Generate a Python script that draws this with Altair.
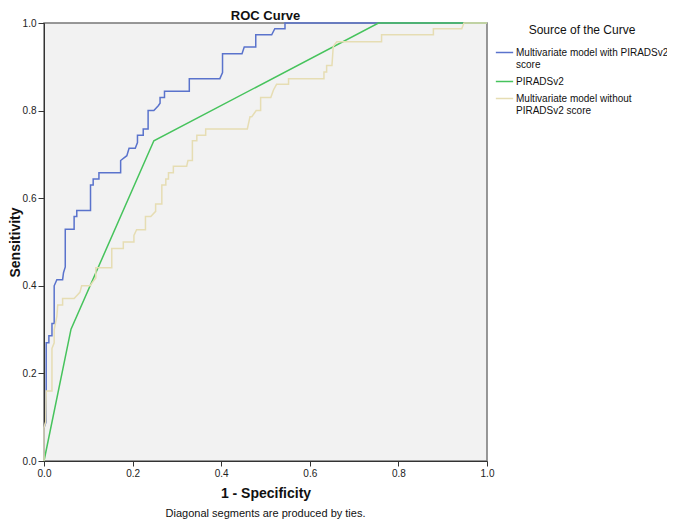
import altair as alt
import pandas as pd

series_names = [
    "Multivariate model with PIRADSv2 score",
    "PIRADSv2",
    "Multivariate model without PIRADSv2 score",
]
series_colors = ["#5a73cc", "#46c35c", "#e6ddb3"]

blue_fpr = [0, 0, 0.005, 0.005, 0.011, 0.011, 0.018, 0.018, 0.023, 0.023, 0.029, 0.042, 0.044, 0.048, 0.048,
            0.068, 0.068, 0.074, 0.074, 0.105, 0.105, 0.111, 0.111, 0.124, 0.124, 0.173, 0.173, 0.187, 0.192,
            0.206, 0.211, 0.211, 0.224, 0.224, 0.235, 0.235, 0.248, 0.258, 0.262, 0.262, 0.272, 0.272, 0.328,
            0.328, 0.397, 0.403, 0.403, 0.447, 0.452, 0.478, 0.478, 0.514, 0.521, 0.544, 0.544, 1.0]
blue_sens = [0, 0.076, 0.09, 0.27, 0.27, 0.286, 0.286, 0.314, 0.314, 0.40, 0.414, 0.414, 0.43, 0.443, 0.529,
             0.529, 0.558, 0.558, 0.572, 0.572, 0.630, 0.630, 0.644, 0.644, 0.658, 0.658, 0.686, 0.697, 0.714,
             0.714, 0.727, 0.744, 0.744, 0.758, 0.758, 0.80, 0.80, 0.811, 0.817, 0.83, 0.83, 0.844, 0.844,
             0.873, 0.873, 0.887, 0.930, 0.930, 0.945, 0.945, 0.973, 0.973, 0.987, 0.987, 1.0, 1.0]

green_fpr = [0, 0.061, 0.248, 0.755, 1.0]
green_sens = [0, 0.301, 0.731, 1.0, 1.0]

beige_fpr = [0, 0, 0.004, 0.005, 0.018, 0.018, 0.023, 0.023, 0.029, 0.031, 0.042, 0.042, 0.068, 0.081, 0.085,
             0.104, 0.111, 0.117, 0.117, 0.153, 0.153, 0.179, 0.179, 0.203, 0.203, 0.209, 0.229, 0.229, 0.241,
             0.252, 0.252, 0.266, 0.266, 0.275, 0.275, 0.281, 0.281, 0.292, 0.292, 0.322, 0.325, 0.335, 0.335,
             0.345, 0.345, 0.365, 0.365, 0.459, 0.465, 0.469, 0.479, 0.489, 0.489, 0.512, 0.518, 0.525, 0.552,
             0.552, 0.632, 0.632, 0.638, 0.638, 0.650, 0.653, 0.661, 0.762, 0.762, 0.879, 0.879, 0.943, 0.948,
             1.0]
beige_sens = [0, 0.076, 0.09, 0.16, 0.16, 0.257, 0.27, 0.30, 0.33, 0.356, 0.356, 0.371, 0.371, 0.385, 0.40,
              0.40, 0.41, 0.418, 0.441, 0.441, 0.485, 0.485, 0.50, 0.50, 0.515, 0.528, 0.528, 0.558, 0.558,
              0.57, 0.587, 0.587, 0.630, 0.630, 0.644, 0.644, 0.658, 0.658, 0.673, 0.673, 0.686, 0.686, 0.731,
              0.731, 0.744, 0.744, 0.758, 0.758, 0.786, 0.786, 0.80, 0.80, 0.83, 0.83, 0.847, 0.86, 0.86,
              0.873, 0.873, 0.888, 0.888, 0.903, 0.903, 0.947, 0.957, 0.957, 0.973, 0.973, 0.987, 0.987, 1.0,
              1.0]

x_ticks = [0.0, 0.2, 0.4, 0.6, 0.8, 1.0]
y_ticks = [0.0, 0.2, 0.4, 0.6, 0.8, 1.0]

chart_title = ["ROC Curve"]
footnote = ["Diagonal segments are produced by ties."]

rows = []
for name, fx, sy in [(series_names[0], blue_fpr, blue_sens),
                     (series_names[1], green_fpr, green_sens),
                     (series_names[2], beige_fpr, beige_sens)]:
    for i, (a, b) in enumerate(zip(fx, sy)):
        rows.append({"series": name, "fpr": a, "sens": b, "idx": i})
df = pd.DataFrame(rows)

FONT = "Liberation Sans"

label_expr = (
    "datum.label == 'Multivariate model with PIRADSv2 score' ? ['Multivariate model with PIRADSv2', 'score'] : "
    "datum.label == 'Multivariate model without PIRADSv2 score' ? ['Multivariate model without', 'PIRADSv2 score'] : "
    "datum.label"
)

lines = alt.Chart(df).mark_line(strokeWidth=1.5, clip=False).encode(
    x=alt.X("fpr:Q", scale=alt.Scale(domain=[0, 1], nice=False),
            axis=alt.Axis(values=x_ticks, format=".1f", title="1 - Specificity", grid=False,
                          domainColor="#333333", tickColor="#333333", tickSize=5,
                          labelFontSize=10, labelColor="#222222", labelPadding=2,
                          titleFontSize=14, titleFontWeight="bold", titleColor="#111111",
                          titlePadding=8, labelFont=FONT, titleFont=FONT, labelFlush=False)),
    y=alt.Y("sens:Q", scale=alt.Scale(domain=[0, 1], nice=False),
            axis=alt.Axis(values=y_ticks, format=".1f", title="Sensitivity", grid=False,
                          domainColor="#333333", tickColor="#333333", tickSize=6,
                          labelFontSize=10, labelColor="#222222", labelPadding=2,
                          titleFontSize=14, titleFontWeight="bold", titleColor="#111111",
                          titlePadding=0, labelFont=FONT, titleFont=FONT, labelFlush=False)),
    color=alt.Color("series:N",
                    scale=alt.Scale(domain=series_names, range=series_colors),
                    legend=alt.Legend(title="Source of the Curve", orient="none",
                                      legendX=451, legendY=2,
                                      titleFontSize=12, titleFontWeight="normal",
                                      titleColor="#111111", titleAnchor="middle",
                                      titleFont=FONT, titlePadding=6,
                                      labelFontSize=10, labelColor="#111111", labelFont=FONT,
                                      labelLimit=400, labelExpr=label_expr,
                                      symbolType="stroke", symbolSize=300, symbolStrokeWidth=1.5,
                                      rowPadding=2, labelOffset=2)),
    order="idx:Q",
)

title_mark = alt.Chart(pd.DataFrame({"t": chart_title})).mark_text(
    fontSize=13, fontWeight="bold", font=FONT, color="#111111", baseline="alphabetic", align="center"
).encode(x=alt.value(221.5), y=alt.value(-3), text="t:N")

note = alt.Chart(pd.DataFrame({"t": footnote})).mark_text(
    fontSize=11, font=FONT, color="#111111", baseline="bottom", align="center"
).encode(x=alt.value(221.5), y=alt.value(496), text="t:N")

chart = alt.layer(lines, title_mark, note).properties(
    width=443, height=438,
    autosize=alt.AutoSizeParams(type="none"),
    padding={"left": 36, "top": 15, "right": 180, "bottom": 59},
).configure_view(fill="#f2f2f2", stroke="#777777", strokeWidth=1.5)

chart.save("out.html", embed_options={"renderer": "svg", "actions": False})
